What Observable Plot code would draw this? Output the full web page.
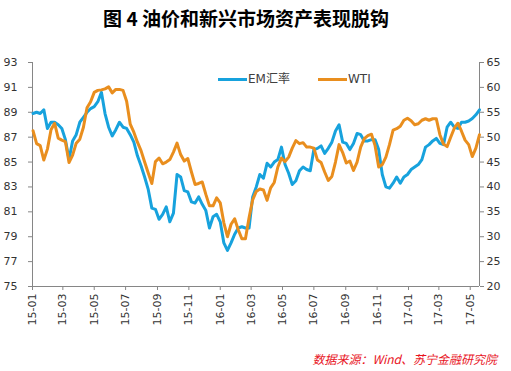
<!DOCTYPE html>
<html><head><meta charset="utf-8">
<script src="https://cdn.jsdelivr.net/npm/d3@7"></script>
<script src="https://cdn.jsdelivr.net/npm/@observablehq/plot@0.6"></script>
<style>
body{margin:0;background:#fff;}
#wrap{position:relative;width:511px;height:371px;overflow:hidden;}
#title{position:absolute;left:0;width:492px;top:8px;text-align:center;font:bold 19px/1 "Noto Sans CJK SC",sans-serif;color:#000;}
.sw{position:absolute;height:3px;}
.lt{position:absolute;font:12px/12px "DejaVu Sans","Noto Sans CJK SC",sans-serif;color:#404040;}
#source{position:absolute;right:14px;top:353px;font:italic 12px/1 "Noto Sans CJK SC",sans-serif;color:#e8141e;}
</style></head><body>
<div id="wrap">
<div id="chart"></div>
<div id="title">图 4 油价和新兴市场资产表现脱钩</div>
<div class="sw" style="left:218px;top:78px;width:29px;background:#17a2dd"></div>
<div class="lt" style="left:248px;top:73px">EM汇率</div>
<div class="sw" style="left:318px;top:78px;width:29px;background:#e98e1e"></div>
<div class="lt" style="left:348px;top:73px">WTI</div>
<div id="source">数据来源：Wind、苏宁金融研究院</div>
</div>
<script>
// Weekly observations starting 2015-01-02
const firstWeek = "2015-01-02";
const emFx = [
88.9,89.0,88.9,89.2,87.7,88.2,88.2,88.0,87.7,86.8,
85.2,86.7,87.2,88.2,88.6,89.0,89.3,89.45,89.85,90.6,
88.9,87.8,87.1,87.6,88.2,87.8,87.7,87.2,86.6,85.5,
84.7,83.8,82.8,81.3,81.2,80.4,80.8,81.4,80.2,80.9,
84.0,83.8,82.7,82.6,81.8,81.7,82.2,81.6,81.1,79.7,
80.6,80.8,80.2,78.5,77.9,78.5,79.2,79.7,79.8,79.7,
79.7,82.2,83.0,84.0,83.7,84.9,84.6,85.0,85.2,86.2,
84.8,84.1,83.2,83.5,84.3,84.6,84.4,84.3,86.0,86.1,
86.3,85.7,86.1,86.6,87.5,88.0,86.6,86.5,86.0,86.5,
87.3,87.2,86.7,86.7,86.8,86.8,86.0,84.0,83.0,82.9,
83.3,83.8,83.3,83.8,84.0,84.4,84.6,84.8,85.2,86.2,
86.4,86.7,86.9,86.5,86.4,87.8,88.2,87.8,87.7,88.2,
88.2,88.3,88.5,88.8,89.2];
const wti = [
51.3,48.7,48.3,45.4,47.6,51.5,52.8,49.8,49.4,49.1,
44.9,46.4,48.8,49.6,52.0,55.9,57.1,59.0,59.4,59.5,
59.7,60.1,58.9,59.6,59.6,59.4,57.2,52.6,51.0,49.0,
47.3,45.0,42.8,40.7,45.1,45.8,44.65,45.0,45.5,47.0,
48.8,46.5,45.2,45.7,43.0,40.5,40.7,41.0,38.5,36.2,
36.2,37.8,36.8,32.8,30.0,32.5,33.6,31.4,29.6,29.6,
33.8,37.4,39.1,39.6,39.4,37.3,39.8,40.9,44.0,45.8,
45.1,46.0,47.8,49.3,48.7,48.9,48.0,48.0,47.8,45.4,
44.9,43.0,41.3,42.1,45.0,48.5,46.9,44.8,45.2,43.3,
45.0,48.0,49.7,50.3,50.6,48.3,44.0,44.5,46.0,48.5,
51.4,51.7,52.2,53.4,53.8,53.3,52.5,52.7,53.4,53.7,
53.4,53.7,53.7,50.5,48.6,48.1,50.0,51.8,52.8,51.2,
49.4,48.5,46.1,47.8,50.5];
const leftTicks = [75,77,79,81,83,85,87,89,91,93];
const rightTicks = [20,25,30,35,40,45,50,55,60,65];
const xStart = "2015-01-01", xEnd = "2017-05-19";

const toLeft = w => 75 + (w - 20) * 18 / 45;
const fromLeft = v => 20 + (v - 75) * 45 / 18;
const start = new Date(firstWeek + "T00:00:00Z");
const data = emFx.map((v, i) => ({date: d3.utcDay.offset(start, 7 * i), em: v, wti: wti[i]}));
const x0 = new Date(xStart + "T00:00:00Z"), x1 = new Date(xEnd + "T00:00:00Z");
const xTicks = d3.utcMonth.every(2).range(x0, x1).concat([]);

const axisColor = "#868686";
const chart = Plot.plot({
  width: 511, height: 371,
  marginTop: 62, marginBottom: 85, marginLeft: 32, marginRight: 32,
  style: {fontFamily: "DejaVu Sans, sans-serif", fontSize: "11px", color: "#333", background: "transparent"},
  x: {type: "utc", domain: [x0, x1]},
  y: {domain: [75, 93]},
  marks: [
    Plot.axisX({ticks: xTicks, tickFormat: d3.utcFormat("%y-%m"), tickRotate: -90, tickSize: 4, tickPadding: 3, stroke: axisColor, fill: "#333", label: null}),
    Plot.axisY({ticks: leftTicks, anchor: "left", tickSize: 4, tickPadding: 11, stroke: axisColor, fill: "#333", label: null}),
    Plot.axisY({ticks: rightTicks.map(toLeft), anchor: "right", tickSize: 4, tickPadding: 3, stroke: axisColor, fill: "#333", tickFormat: d => String(Math.round(fromLeft(d))), label: null}),
    Plot.ruleX([x0], {stroke: axisColor}),
    Plot.ruleX([x1], {stroke: axisColor}),
    Plot.ruleY([75], {stroke: axisColor}),
    Plot.line(data, {x: "date", y: "em", stroke: "#17a2dd", strokeWidth: 3}),
    Plot.line(data, {x: "date", y: d => toLeft(d.wti), stroke: "#e98e1e", strokeWidth: 3})
  ]
});
document.getElementById("chart").appendChild(chart);
</script>
</body></html>
